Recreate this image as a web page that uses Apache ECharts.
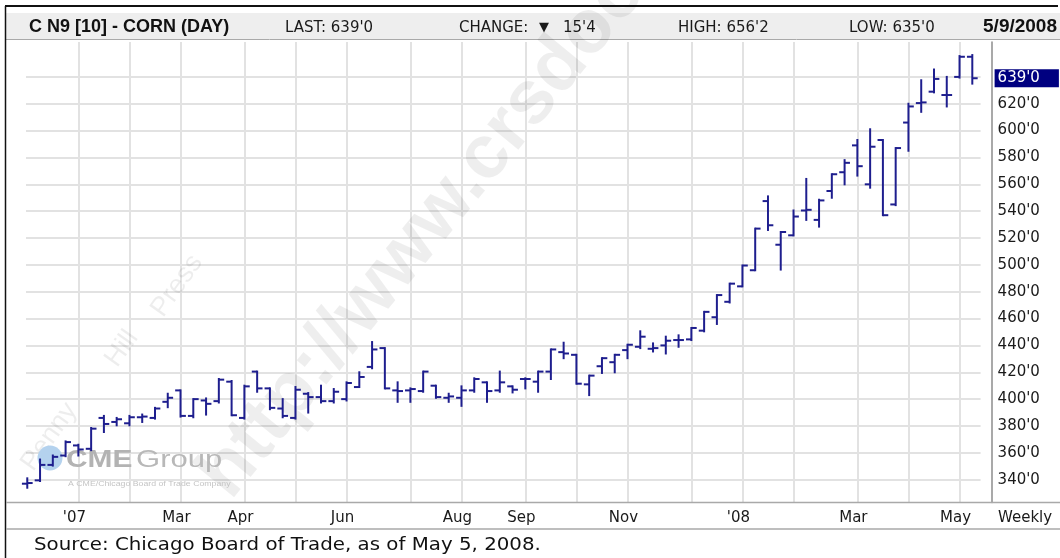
<!DOCTYPE html>
<html>
<head>
<meta charset="utf-8">
<script src="https://cdn.jsdelivr.net/npm/echarts@6/dist/echarts.min.js"></script>
<style>
  html, body { margin: 0; padding: 0; background: #fff; }
  #chart { width: 1060px; height: 558px; }
</style>
</head>
<body>
<div id="chart"></div>
<script>
// weekly OHLC bars, week 0 = week of Dec 4 2006 ... week 74 = week of May 5 2008
const opens  = [337, 339.5, 351, 358, 365.5, 363, 386, 383, 382, 386.5,
                386, 398, 406.5, 387.5, 399, 398.5, 413, 386, 420.5, 408,
                393, 386, 404, 401.5, 398.5, 400, 409, 424, 438, 406.5,
                406.5, 406, 410, 401, 401, 406.5, 412.5, 406.5, 409.5, 415,
                413, 420.5, 435, 433, 411, 424.5, 427.5, 436.5, 439, 437.5,
                440, 444, 444.5, 451, 461, 472.5, 484, 496, 547.5, 515,
                522, 540.5, 533.5, 555, 569, 589, 560, 593, 545, 606,
                620.5, 629, 626.5, 640, 655]
const highs  = [341, 355, 358, 368.5, 366, 378.5, 387.5, 386, 387.5, 388.5,
                393.5, 404, 406.5, 400, 400.5, 415, 413.5, 410, 420.5, 408,
                400, 409, 404.5, 410, 407.5, 412.5, 420, 442.5, 438, 412.5,
                408, 420.5, 410, 404, 409.5, 415.5, 412.5, 420.5, 409.5, 415.5,
                420.5, 437, 442, 433, 417.5, 430.5, 433, 440.5, 450.5, 441.5,
                446.5, 447.5, 453, 465, 477.5, 486, 499.5, 527, 551, 524.5,
                540.5, 564, 548.5, 567.5, 578, 593, 601, 593, 587, 620,
                637.5, 645.5, 640, 655.5, 656.25]
const lows   = [334, 339, 350.5, 357.5, 358, 362, 375.5, 380.5, 380.5, 383,
                385.5, 394, 387, 386.5, 388.5, 397.5, 388, 385.5, 405.5, 392.5,
                386.5, 385.5, 390, 397.5, 397.5, 399, 409, 423, 408, 398,
                398, 405.5, 401, 398, 395, 405.5, 398, 405.5, 405, 408,
                405.5, 415, 430.5, 411.5, 403, 419.5, 420, 430.5, 438, 435.5,
                434, 439, 444, 450.5, 456, 472, 484, 496, 526, 496.5,
                522, 533.5, 528.5, 550, 560, 566.5, 557.5, 537, 544.5, 585,
                614, 628.5, 618, 639.5, 635]
const closes = [337.5, 351, 357, 368, 362.5, 378, 381.5, 385, 386.5, 387,
                393, 401, 387.5, 400, 396.5, 414.5, 388, 409.5, 408, 393.5,
                387.5, 407, 401.5, 398.5, 405.5, 412, 416.5, 437, 408, 406,
                407.5, 420.5, 401.5, 402, 406.5, 415, 406, 412.5, 407, 415,
                420.5, 437, 434, 411.5, 417.5, 430.5, 433, 440.5, 446.5, 438,
                443.5, 444, 453, 465, 477.5, 486, 499.5, 527, 529.5, 524.5,
                536, 541, 548, 567.5, 576, 573.5, 588, 537, 587, 618,
                621, 638.5, 626.5, 655, 639]

// first trading week of each month, and the months that carry a label
const monthStartWeeks = [4, 8, 12, 17, 21, 25, 30, 34, 39, 43, 47, 52, 56, 60, 65, 69, 73]
const labelWeeks  = [4, 12, 17, 25, 34, 39, 47, 56, 65, 73]
const monthLabels = ["'07", 'Mar', 'Apr', 'Jun', 'Aug', 'Sep', 'Nov', "'08", 'Mar', 'May']

const priceTicks  = [340, 360, 380, 400, 420, 440, 460, 480, 500, 520, 540, 560, 580, 600, 620, 640]
const priceLabels = [340, 360, 380, 400, 420, 440, 460, 480, 500, 520, 540, 560, 580, 600, 620]
const lastPrice = 639

const BAR_COLOR = '#1e1e8e'
const GRID_COLOR = '#e2e2e2'
const FONT = 'DejaVu Sans'

function fmtPrice(v) {
  return v + "'0"
}

const chart = echarts.init(document.getElementById('chart'))

const bars = opens.map((o, i) => [i, o, highs[i], lows[i], closes[i]])

function renderBar(params, api) {
  const x = api.value(0)
  const o = api.coord([x, api.value(1)])
  const h = api.coord([x, api.value(2)])
  const l = api.coord([x, api.value(3)])
  const c = api.coord([x, api.value(4)])
  const t = api.size([1, 0])[0] * 0.42
  const style = { stroke: BAR_COLOR, lineWidth: 2 }
  return {
    type: 'group',
    children: [
      { type: 'line', shape: { x1: h[0], y1: h[1] - 1, x2: l[0], y2: l[1] + 1 }, style },
      { type: 'line', shape: { x1: o[0] - t, y1: o[1], x2: o[0], y2: o[1] }, style },
      { type: 'line', shape: { x1: c[0], y1: c[1], x2: c[0] + t, y2: c[1] }, style }
    ]
  }
}

const option = {
  animation: false,
  backgroundColor: '#fff',
  textStyle: { fontFamily: FONT },
  grid: { left: 26, right: 79.4, top: 42, bottom: 55.5 },
  xAxis: {
    type: 'value',
    min: -0.1,
    max: 74.65,
    axisLine: { show: false, onZero: false },
    axisTick: { show: false, customValues: monthStartWeeks },
    splitLine: { show: true, lineStyle: { color: GRID_COLOR, width: 2 } },
    axisLabel: {
      customValues: labelWeeks,
      formatter: v => monthLabels[labelWeeks.indexOf(v)],
      color: '#1a1a1a',
      fontFamily: FONT,
      fontSize: 15,
      margin: 8,
      padding: [0, 8, 0, 0]
    }
  },
  yAxis: {
    type: 'value',
    position: 'right',
    min: 323,
    max: 666,
    offset: 11,
    axisLine: { show: true, onZero: false, lineStyle: { color: '#8c8c8c', width: 1.5 } },
    axisTick: { show: false, customValues: priceTicks },
    splitLine: { show: true, lineStyle: { color: GRID_COLOR, width: 2 } },
    axisLabel: {
      customValues: priceLabels,
      formatter: fmtPrice,
      color: '#1a1a1a',
      fontFamily: FONT,
      fontSize: 15,
      margin: 6
    }
  },
  series: [
    {
      type: 'custom',
      renderItem: renderBar,
      data: bars,
      encode: { x: 0, y: [1, 2, 3, 4] },
      clip: false,
      z: 5,
      markLine: {
        silent: true,
        symbol: 'none',
        lineStyle: { width: 0, color: 'rgba(0,0,0,0)' },
        label: {
          show: true,
          position: 'end',
          distance: 14,
          formatter: () => fmtPrice(lastPrice),
          color: '#fff',
          backgroundColor: '#000080',
          fontFamily: FONT,
          fontSize: 15,
          padding: [2, 19, 1, 3]
        },
        data: [{ yAxis: lastPrice }]
      }
    }
  ],
  graphic: [
    // header band and frame
    { type: 'rect', z: 0, shape: { x: 6, y: 13, width: 1054, height: 26 }, style: { fill: '#eeeeee' } },
    { type: 'line', z: 0, shape: { x1: 6, y1: 39.5, x2: 1060, y2: 39.5 }, style: { stroke: '#a9a9a9', lineWidth: 1 } },
    { type: 'line', z: 10, shape: { x1: 5, y1: 6, x2: 1058, y2: 6 }, style: { stroke: '#111', lineWidth: 2 } },
    { type: 'line', z: 10, shape: { x1: 5.5, y1: 6, x2: 5.5, y2: 558 }, style: { stroke: '#111', lineWidth: 1.5 } },
    { type: 'line', z: 10, shape: { x1: 6, y1: 502.5, x2: 1060, y2: 502.5 }, style: { stroke: '#a9a9a9', lineWidth: 1.5 } },
    { type: 'line', z: 10, shape: { x1: 6, y1: 529, x2: 1060, y2: 529 }, style: { stroke: '#a9a9a9', lineWidth: 1.5 } },

    // watermarks
    {
      type: 'text', z: 1, x: 244, y: 512, rotation: 0.885,
      style: { text: 'http://www.crsdocuments.com', font: 'bold 76px "Liberation Sans"', fill: 'rgba(0,0,0,0.065)', align: 'left', verticalAlign: 'bottom' }
    },
    { type: 'text', z: 1, x: 16, y: 460, rotation: 0.95, style: { text: 'Penny', font: '27px "Liberation Sans"', fill: 'rgba(0,0,0,0.07)' } },
    { type: 'text', z: 1, x: 100, y: 356, rotation: 0.95, style: { text: 'Hill', font: '27px "Liberation Sans"', fill: 'rgba(0,0,0,0.07)' } },
    { type: 'text', z: 1, x: 146, y: 306, rotation: 0.95, style: { text: 'Press', font: '27px "Liberation Sans"', fill: 'rgba(0,0,0,0.07)' } },
    { type: 'circle', z: 1, shape: { cx: 50, cy: 458, r: 12.5 }, style: { fill: '#b4d2ee' } },
    { type: 'text', z: 1, x: 66, y: 461, scaleX: 1.3, style: { text: 'CME', font: 'bold 23px "Liberation Sans"', fill: '#b3b3b3', verticalAlign: 'middle' } },
    { type: 'text', z: 1, x: 136, y: 461, scaleX: 1.35, style: { text: 'Group', font: '23px "Liberation Sans"', fill: '#b8b8b8', verticalAlign: 'middle' } },
    { type: 'text', z: 1, x: 68, y: 484, scaleX: 1.25, style: { text: 'A CME/Chicago Board of Trade Company', font: '7px "Liberation Sans"', fill: '#c4c4c4', verticalAlign: 'middle' } },

    // header texts
    { type: 'text', z: 12, x: 29, y: 27, style: { text: 'C N9 [10] - CORN (DAY)', font: 'bold 18px "Liberation Sans"', fill: '#111', verticalAlign: 'middle' } },
    { type: 'text', z: 12, x: 285, y: 28, style: { text: "LAST: 639'0", font: '15px "DejaVu Sans"', fill: '#1a1a1a', verticalAlign: 'middle' } },
    { type: 'text', z: 12, x: 459, y: 28, style: { text: 'CHANGE:', font: '15px "DejaVu Sans"', fill: '#1a1a1a', verticalAlign: 'middle' } },
    { type: 'text', z: 12, x: 539, y: 28, style: { text: '▼', font: '13px "DejaVu Sans"', fill: '#1a1a1a', verticalAlign: 'middle' } },
    { type: 'text', z: 12, x: 563, y: 28, style: { text: "15'4", font: '15px "DejaVu Sans"', fill: '#1a1a1a', verticalAlign: 'middle' } },
    { type: 'text', z: 12, x: 678, y: 28, style: { text: "HIGH: 656'2", font: '15px "DejaVu Sans"', fill: '#1a1a1a', verticalAlign: 'middle' } },
    { type: 'text', z: 12, x: 849, y: 28, style: { text: "LOW: 635'0", font: '15px "DejaVu Sans"', fill: '#1a1a1a', verticalAlign: 'middle' } },
    { type: 'text', z: 12, x: 1057, y: 27, style: { text: '5/9/2008', font: 'bold 19px "Liberation Sans"', fill: '#111', align: 'right', verticalAlign: 'middle' } },

    // bottom row
    { type: 'text', z: 12, x: 998, y: 518, style: { text: 'Weekly', font: '15px "DejaVu Sans"', fill: '#1a1a1a', verticalAlign: 'middle' } },
    { type: 'text', z: 12, x: 34, y: 546, scaleX: 1.165, style: { text: 'Source: Chicago Board of Trade, as of May 5, 2008.', font: '17px "DejaVu Sans"', fill: '#111', verticalAlign: 'middle' } }
  ]
}

chart.setOption(option)
</script>
</body>
</html>
